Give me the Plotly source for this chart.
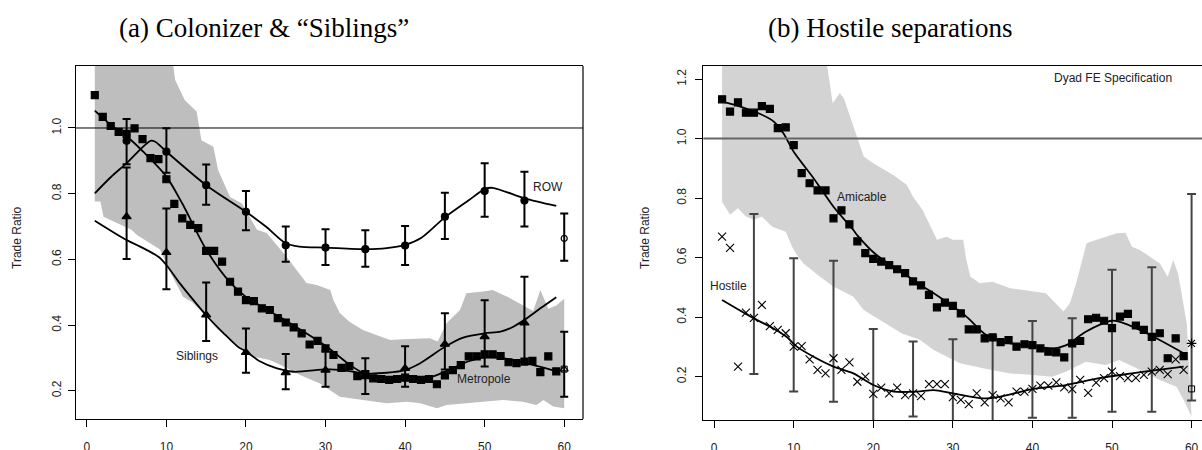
import plotly.graph_objects as go

# ---------------- Panel (a) data ----------------
t_sq_a = list(range(1, 60))
metro_sq = [1.10, 1.034, 1.006, 0.988, 0.982, 0.999, 0.966, 0.908, 0.905, 0.844,
            0.769, 0.725, 0.705, 0.695, 0.626, 0.626, 0.593, 0.532, 0.502, 0.476,
            0.473, 0.451, 0.446, 0.421, 0.408, 0.393, 0.375, 0.341, 0.352, 0.329,
            0.309, 0.270, 0.275, 0.245, 0.251, 0.238, 0.236, 0.233, 0.236, 0.240,
            0.236, 0.233, 0.236, 0.220, 0.247, 0.263, 0.278, 0.305, 0.305, 0.311,
            0.311, 0.306, 0.287, 0.284, 0.289, 0.291, 0.257, 0.305, 0.259]
metro_end = 0.266

band_a_up_t = [1, 10.7, 11.1, 12.3, 13.8, 14.4, 15.9, 16.5, 18, 19.5, 21.4, 22.6, 25.1, 27.6,
               28.9, 30.6, 31.0, 31.8, 33, 34.7, 36.4, 38.1, 39.7, 43.1, 44.1, 45.2, 46.9,
               47.7, 49.8, 51, 53.2, 54.8, 56.1, 57, 58, 59, 60]
band_a_up = [1.30, 1.22, 1.146, 1.085, 1.05, 0.963, 0.943, 0.872, 0.79, 0.77, 0.69, 0.68, 0.608, 0.528,
             0.522, 0.507, 0.476, 0.437, 0.41, 0.385, 0.37, 0.355, 0.357, 0.36, 0.35, 0.406, 0.446,
             0.497, 0.502, 0.507, 0.482, 0.46, 0.443, 0.507, 0.45, 0.46, 0.48]
band_a_lo_t = [1, 1.7, 2.1, 5.6, 6.3, 9.2, 10.5, 12.1, 13.2, 15.1, 16.3, 19.3, 20.9, 23, 24.3,
               26.8, 29.3, 31.8, 34.7, 37.7, 40.2, 41.9, 44, 45.2, 47.3, 49.8, 52.3, 54.8,
               56.5, 57.4, 58.6, 60]
band_a_lo = [0.776, 0.776, 0.73, 0.69, 0.674, 0.63, 0.56, 0.486, 0.47, 0.426, 0.39, 0.334, 0.304, 0.294, 0.279,
             0.248, 0.222, 0.182, 0.172, 0.162, 0.167, 0.162, 0.147, 0.157, 0.162, 0.167, 0.172, 0.167,
             0.157, 0.172, 0.152, 0.147]

metro_line_t = [1, 3, 5, 7, 10, 12, 15, 18, 20, 25, 30, 33, 35, 38, 40, 43, 45, 48, 50, 52, 55, 59]
metro_line = [1.053, 1.01, 0.975, 0.93, 0.852, 0.77, 0.63, 0.53, 0.486, 0.414, 0.337, 0.28, 0.251,
              0.238, 0.236, 0.24, 0.258, 0.29, 0.302, 0.30, 0.285, 0.26]

row_line_t = [1, 3, 5, 8, 8.6, 10, 15, 20, 22.5, 25, 26.7, 30, 35, 37.7, 40, 42, 45, 48, 50, 51, 55, 59]
row_line = [0.801, 0.85, 0.893, 0.961, 0.958, 0.928, 0.826, 0.745, 0.70, 0.649, 0.639, 0.636, 0.631,
            0.634, 0.644, 0.665, 0.728, 0.78, 0.814, 0.818, 0.786, 0.763]

sib_line_t = [1, 5, 6.7, 9, 10, 11.7, 13.4, 15, 17.2, 19, 20, 21.8, 23.9, 26, 30, 31.8, 35, 37.7,
              40, 41.9, 45, 47.3, 50, 52, 53.6, 55, 57, 59]
sib_line = [0.718, 0.659, 0.639, 0.608, 0.583, 0.527, 0.476, 0.43, 0.375, 0.334, 0.32, 0.289, 0.268,
            0.258, 0.265, 0.264, 0.253, 0.255, 0.263, 0.284, 0.334, 0.362, 0.375, 0.38, 0.395,
            0.416, 0.451, 0.485]

t_ci = [5, 10, 15, 20, 25, 30, 35, 40, 45, 50, 55]
row_pt = [0.961, 0.928, 0.826, 0.745, 0.643, 0.636, 0.631, 0.642, 0.73, 0.808, 0.779]
row_lo = [0.89, 0.864, 0.766, 0.689, 0.593, 0.583, 0.578, 0.583, 0.662, 0.73, 0.70]
row_hi = [1.027, 0.999, 0.889, 0.808, 0.70, 0.692, 0.689, 0.702, 0.803, 0.893, 0.867]
row_end, row_end_lo, row_end_hi = 0.664, 0.596, 0.74

sib_pt = [0.73, 0.621, 0.431, 0.317, 0.255, 0.263, 0.243, 0.268, 0.342, 0.365, 0.407]
sib_lo = [0.601, 0.509, 0.352, 0.255, 0.205, 0.212, 0.19, 0.212, 0.265, 0.274, 0.289]
sib_hi = [0.88, 0.755, 0.53, 0.39, 0.312, 0.32, 0.299, 0.336, 0.436, 0.476, 0.547]
sib_end, sib_end_lo, sib_end_hi = 0.266, 0.182, 0.38

# ---------------- Panel (b) data ----------------
t_sq_b = list(range(1, 60))
amic_sq = [1.132, 1.091, 1.122, 1.087, 1.087, 1.109, 1.10, 1.035, 1.038, 0.978,
           0.884, 0.85, 0.826, 0.826, 0.732, 0.759, 0.712, 0.655, 0.615, 0.596,
           0.587, 0.575, 0.561, 0.548, 0.52, 0.507, 0.475, 0.433, 0.449, 0.438,
           0.413, 0.359, 0.359, 0.329, 0.332, 0.316, 0.323, 0.301, 0.309, 0.306,
           0.295, 0.284, 0.282, 0.265, 0.312, 0.32, 0.393, 0.398, 0.388, 0.363,
           0.402, 0.411, 0.372, 0.357, 0.334, 0.346, 0.262, 0.329, 0.269]
host_x = [0.671, 0.633, 0.234, 0.415, 0.398, 0.441, 0.37, 0.357, 0.346, 0.301,
          0.303, 0.258, 0.223, 0.211, 0.262, 0.223, 0.248, 0.183, 0.20, 0.142,
          0.163, 0.144, 0.163, 0.138, 0.144, 0.135, 0.175, 0.175, 0.175, 0.131,
          0.122, 0.108, 0.144, 0.114, 0.138, 0.127, 0.114, 0.15, 0.15, 0.159,
          0.17, 0.17, 0.181, 0.164, 0.158, 0.189, 0.146, 0.18, 0.195, 0.217,
          0.202, 0.195, 0.196, 0.206, 0.217, 0.223, 0.209, 0.258, 0.223]
amic_end = 0.312
host_end = 0.159

band_b_up_t = [1, 13.9, 14.9, 15.8, 16.3, 18.8, 20, 22.5, 24.2, 25, 26.2, 28, 29.2, 30, 31.3, 31.7,
               32.2, 33.4, 35, 37.2, 38.9, 40, 41.7, 43.9, 44.7, 45.5, 46.4, 46.8, 47.5, 50.6,
               51.7, 52.5, 53.5, 56, 57, 57.7, 58.3, 59.4, 60]
band_b_up = [1.40, 1.30, 1.119, 1.153, 1.136, 0.94, 0.917, 0.878, 0.845, 0.805, 0.76, 0.66, 0.67, 0.66,
             0.66, 0.592, 0.536, 0.514, 0.519, 0.497, 0.491, 0.486, 0.48, 0.419, 0.447, 0.514, 0.603,
             0.648, 0.655, 0.682, 0.684, 0.637, 0.626, 0.581, 0.536, 0.592, 0.547, 0.379, 0.066]
band_b_lo_t = [1, 2, 3, 4, 5, 6, 7.3, 9, 9.8, 10.4, 11.2, 13.3, 15, 15.8, 17.5, 18.8, 20.9, 23.6,
               25.8, 27.6, 30.9, 33.8, 37.2, 40, 42.5, 44.2, 46.7, 49.2, 50.9, 53.5, 56, 58.1, 59, 60]
band_b_lo = [0.788, 0.744, 0.766, 0.738, 0.727, 0.738, 0.704, 0.687, 0.637, 0.609, 0.581, 0.536, 0.503,
             0.491, 0.469, 0.424, 0.39, 0.345, 0.325, 0.29, 0.245, 0.228, 0.211, 0.206, 0.20, 0.217,
             0.25, 0.239, 0.256, 0.223, 0.189, 0.166, 0.122, 0.066]

amic_line_t = [1, 3, 6, 7.5, 8.7, 10, 12.5, 15, 17.5, 18, 20.4, 23.4, 25.8, 27.6, 31.7, 34.2, 37.2,
               40, 42.5, 44.2, 46.7, 50, 51.9, 54.8, 59]
amic_line = [1.124, 1.11, 1.08, 1.057, 1.018, 0.956, 0.867, 0.771, 0.693, 0.675, 0.609, 0.555, 0.51,
             0.48, 0.402, 0.34, 0.312, 0.303, 0.295, 0.305, 0.351, 0.388, 0.376, 0.34, 0.279]
host_line_t = [1, 5, 7.4, 9.1, 10.4, 12.5, 15, 17.5, 20, 22.6, 25.5, 27.6, 30, 33.8, 35.8, 40, 44.2,
               48.4, 52.5, 55.8, 59]
host_line = [0.458, 0.396, 0.363, 0.334, 0.301, 0.267, 0.234, 0.211, 0.172, 0.15, 0.15, 0.155, 0.144,
             0.127, 0.132, 0.158, 0.172, 0.195, 0.211, 0.223, 0.234]

t_ci_b = [5, 10, 15, 20, 25, 30, 35, 40, 45, 50, 55, 60]
ci_b_lo = [0.209, 0.15, 0.116, 0.03, 0.066, 0.03, 0.03, 0.062, 0.062, 0.082, 0.082, 0.12]
ci_b_hi = [0.747, 0.598, 0.59, 0.36, 0.318, 0.326, 0.335, 0.387, 0.396, 0.559, 0.568, 0.814]

x_ticks = [0, 10, 20, 30, 40, 50, 60]
y_ticks_a = [0.2, 0.4, 0.6, 0.8, 1.0]
y_ticks_b = [0.2, 0.4, 0.6, 0.8, 1.0, 1.2]

# ---------------- Figure ----------------
W, H = 1202, 450
fig = go.Figure()
BLACK = "#000000"
SANS = "Liberation Sans, Arial, sans-serif"
SERIF = "Liberation Serif, Times New Roman, serif"


def band(tu, up, tl, lo, color, xa, ya):
    fig.add_trace(go.Scatter(x=list(tu) + list(tl)[::-1], y=list(up) + list(lo)[::-1],
                             fill="toself", fillcolor=color, line=dict(width=0),
                             mode="lines", hoverinfo="skip", xaxis=xa, yaxis=ya, showlegend=False))


def line(t, v, xa, ya, width=1.8):
    fig.add_trace(go.Scatter(x=t, y=v, mode="lines", line=dict(color=BLACK, width=width, shape="spline",
                                                              smoothing=0.8),
                             xaxis=xa, yaxis=ya, showlegend=False, hoverinfo="skip"))


def pts(t, v, symbol, size, xa, ya, color=BLACK, lw=1.2):
    fig.add_trace(go.Scatter(x=t, y=v, mode="markers",
                             marker=dict(symbol=symbol, size=size, color=color,
                                         line=dict(color=color, width=lw)),
                             xaxis=xa, yaxis=ya, showlegend=False, hoverinfo="skip"))


def ci(t, v, lo, hi, symbol, size, xa, ya, color=BLACK, width=2, cap=4):
    fig.add_trace(go.Scatter(x=t, y=v, mode="markers",
                             marker=dict(symbol=symbol, size=size, color=color,
                                         line=dict(color=color, width=1.2)),
                             error_y=dict(type="data", symmetric=False,
                                          array=[h - c for h, c in zip(hi, v)],
                                          arrayminus=[c - l for c, l in zip(v, lo)],
                                          color=color, thickness=width, width=cap),
                             xaxis=xa, yaxis=ya, showlegend=False, hoverinfo="skip"))


# Panel a
band(band_a_up_t, band_a_up, band_a_lo_t, band_a_lo, "#bebebe", "x", "y")
line(metro_line_t, metro_line, "x", "y")
line(row_line_t, row_line, "x", "y")
line(sib_line_t, sib_line, "x", "y")
pts(t_sq_a, metro_sq, "square", 7, "x", "y")
ci(t_ci, row_pt, row_lo, row_hi, "circle", 7, "x", "y")
ci(t_ci, sib_pt, sib_lo, sib_hi, "triangle-up", 8, "x", "y")
ci([60], [row_end], [row_end_lo], [row_end_hi], "circle-open", 6, "x", "y")
ci([60], [sib_end], [sib_end_lo], [sib_end_hi], "triangle-up-open", 7, "x", "y")
pts([60], [metro_end], "square-open", 6, "x", "y", lw=1)

# Panel b
band(band_b_up_t, band_b_up, band_b_lo_t, band_b_lo, "#d3d3d3", "x2", "y2")
ci(t_ci_b, ci_b_lo, ci_b_lo, ci_b_hi, "line-ew", 0.1, "x2", "y2", color="#444444", width=2, cap=4.5)
line(amic_line_t, amic_line, "x2", "y2")
line(host_line_t, host_line, "x2", "y2")
pts(t_sq_b, amic_sq, "square", 7, "x2", "y2")
pts(t_sq_b, host_x, "x-thin-open", 8, "x2", "y2", lw=1.1)
pts([60], [amic_end], "asterisk-open", 8, "x2", "y2", lw=1.1)
pts([60], [host_end], "square-open", 6, "x2", "y2", lw=1)

# reference lines at 1.0
fig.add_shape(type="line", xref="x domain", yref="y", x0=0, x1=1, y0=1.0, y1=1.0,
              line=dict(color=BLACK, width=1), layer="above")
fig.add_shape(type="line", xref="x2 domain", yref="y2", x0=0, x1=1, y0=1.0, y1=1.0,
              line=dict(color="#666666", width=2), layer="above")
# right border of panel (a)
fig.add_shape(type="line", xref="x domain", yref="y domain", x0=1, x1=1, y0=0, y1=1,
              line=dict(color=BLACK, width=1.2), layer="above")

ax_common = dict(showgrid=False, zeroline=False, showline=True, linecolor=BLACK, linewidth=1.2,
                 ticks="outside", ticklen=7, tickwidth=1.2, tickcolor=BLACK, automargin=False,
                 tickfont=dict(family=SANS, size=12, color="#222222"))

fig.update_layout(
    width=W, height=H, margin=dict(l=0, r=0, t=0, b=0, pad=0, autoexpand=False),
    paper_bgcolor="white", plot_bgcolor="white", showlegend=False,
    xaxis=dict(domain=[76 / W, 583 / W], range=[-1.36, 62.36], tickvals=x_ticks, mirror=True,
               ticklabelstandoff=9, anchor="y", **ax_common),
    yaxis=dict(domain=[1 - 419 / H, 1 - 66 / H], range=[0.1142, 1.1887], tickvals=y_ticks_a,
               ticktext=[f"{v:.1f}" for v in y_ticks_a], tickangle=-90, mirror=False,
               ticklabelstandoff=2, anchor="x", **ax_common),
    xaxis2=dict(domain=[703.3 / W, 1.0], range=[-1.36, 61.31], tickvals=x_ticks, mirror=True,
                ticklabelstandoff=9, anchor="y2", **ax_common),
    yaxis2=dict(domain=[1 - 420 / H, 1 - 66 / H], range=[0.0545, 1.244], tickvals=y_ticks_b,
                ticktext=[f"{v:.1f}" for v in y_ticks_b], tickangle=-90, mirror=False,
                ticklabelstandoff=4, anchor="x2", **ax_common),
)

ann = []
ann.append(dict(text="(a) Colonizer &amp; “Siblings”", x=264 / W, y=1 - 28 / H, xref="paper", yref="paper",
                xanchor="center", yanchor="middle",
                showarrow=False, font=dict(family=SERIF, size=27, color=BLACK)))
ann.append(dict(text="(b) Hostile separations", x=890 / W, y=1 - 28 / H, xref="paper", yref="paper",
                xanchor="center", yanchor="middle",
                showarrow=False, font=dict(family=SERIF, size=27, color=BLACK)))
for xp in (17, 645):
    ann.append(dict(text="Trade Ratio", x=xp / W, y=1 - 238 / H, xref="paper", yref="paper",
                    xanchor="center", yanchor="middle",
                    textangle=-90, showarrow=False, font=dict(family=SANS, size=12, color="#222222")))
labels_a = [("ROW", 58.0, 0.821), ("Siblings", 13.8, 0.306), ("Metropole", 49.9, 0.236)]
for txt, tx, ty in labels_a:
    ann.append(dict(text=txt, x=tx, y=ty, xref="x", yref="y", showarrow=False,
                    xanchor="center", yanchor="middle",
                    font=dict(family=SANS, size=12, color="#222222")))
labels_b = [("Amicable", 18.6, 0.805), ("Hostile", 1.8, 0.505), ("Dyad FE Specification", 50.1, 1.203)]
for txt, tx, ty in labels_b:
    ann.append(dict(text=txt, x=tx, y=ty, xref="x2", yref="y2", showarrow=False,
                    xanchor="center", yanchor="middle",
                    font=dict(family=SANS, size=12, color="#222222")))
fig.update_layout(annotations=ann)

fig.write_html("out.html", config={"displayModeBar": False},
               post_script="document.body.style.margin='0px';document.body.style.overflow='hidden';")
